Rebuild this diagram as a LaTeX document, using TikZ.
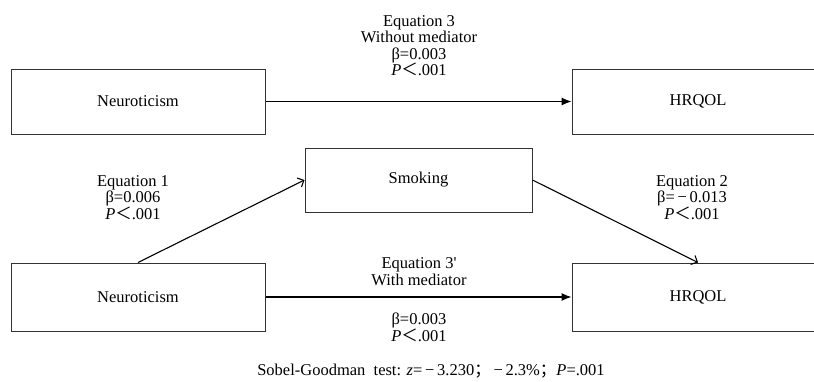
\documentclass[tikz,border=0pt]{standalone}
\usepackage{fontspec}
\setmainfont{Liberation Serif}
\newfontfamily\cjk{Noto Sans CJK SC}
\usetikzlibrary{arrows.meta}
\newcommand{\lt}{{\cjk ＜}}
\newcommand{\fm}{\,−\,}
\newcommand{\fsc}{{\cjk ；}}
\begin{document}
\begin{tikzpicture}[x=1pt,y=-1pt,
  every node/.style={font=\fontsize{16.5}{16.5}\selectfont, inner sep=0pt},
  box/.style={draw=black!80, line width=1pt, minimum height=65pt},
  lbl/.style={align=center},
  link/.style={line width=1.1pt, -{Latex[length=10pt,width=8pt]}},
  slant/.style={line width=1.1pt, -{Straight Barb[length=5pt,width=10pt]}}]
\useasboundingbox (0,0) rectangle (814,381);
% boxes
\node[box, minimum width=254pt] (n1) at (138,101.5) {Neuroticism};
\node[box, minimum width=252pt] (h1) at (698,101.5) {HRQOL};
\node[box, minimum width=227pt, minimum height=64pt] (sm) at (418.5,180) {Smoking};
\node[box, minimum width=254pt, minimum height=68pt] (n2) at (138,297) {Neuroticism};
\node[box, minimum width=252pt, minimum height=68pt] (h2) at (698,297) {HRQOL};
% connectors
\draw[link] (n1.east) -- (h1.west);
\draw[link] (n2.east) -- (h2.west);
\draw[slant] (n2.north) -- (sm.west);
\draw[slant] (sm.east) -- (h2.north);
% labels
\node[lbl] (e3) at (419,45.5) {Equation 3\\Without mediator\\β=0.003\\\textit{P}\lt.001};
\node[lbl] (e1) at (133,197.5) {Equation 1\\β=0.006\\\textit{P}\lt.001};
\node[lbl] (e2) at (692,197.5) {Equation 2\\β=\fm0.013\\\textit{P}\lt.001};
\node[lbl] (e3a) at (419,271.5) {Equation 3\textquotesingle\\With mediator};
\node[lbl] (e3b) at (419,327.5) {β=0.003\\\textit{P}\lt.001};
\node (sob) at (431,371) {Sobel-Goodman\ \ test: \textit{z}=\fm3.230\fsc\fm2.3\%\fsc\textit{P}=.001};
\end{tikzpicture}
\end{document}
